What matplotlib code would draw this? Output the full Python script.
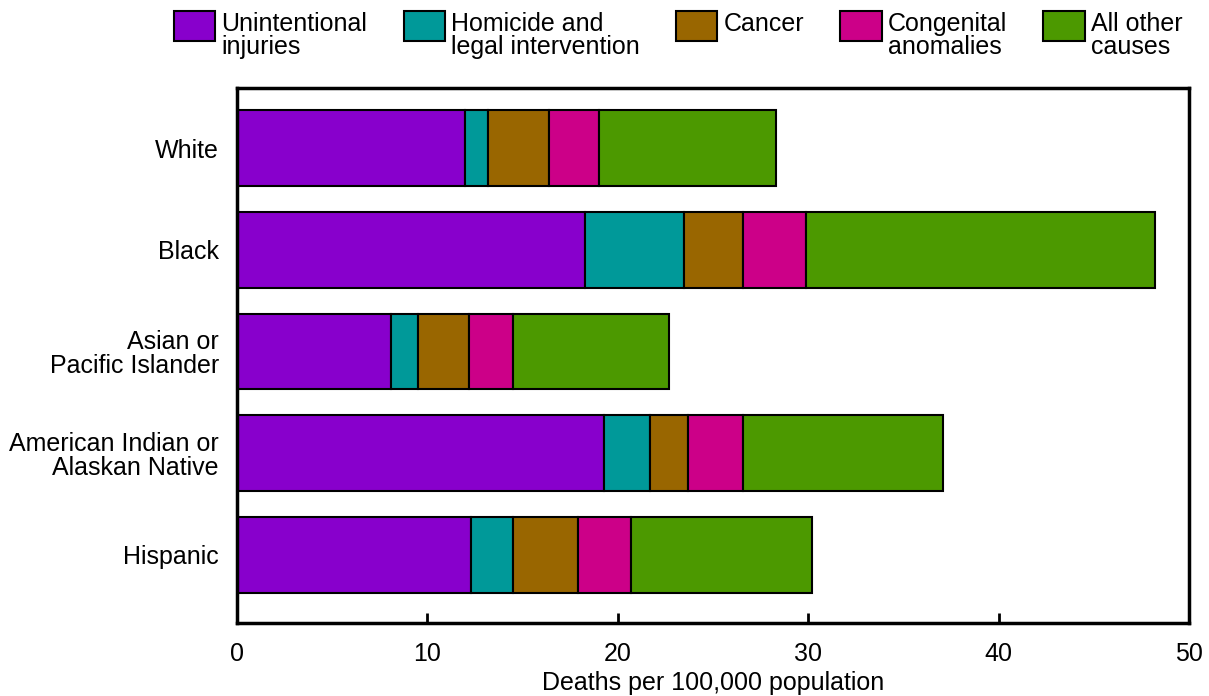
import numpy as np
import matplotlib
matplotlib.use("Agg")
import matplotlib.pyplot as plt
from matplotlib.patches import Patch, Rectangle
from matplotlib.legend_handler import HandlerPatch

plt.rcParams['font.family'] = ['Liberation Sans', 'DejaVu Sans']

groups = ["White", "Black", "Asian or\nPacific Islander",
          "American Indian or\nAlaskan Native", "Hispanic"]
causes = ["Unintentional\ninjuries", "Homicide and\nlegal intervention",
          "Cancer\n", "Congenital\nanomalies", "All other\ncauses"]
colors = ["#8800cc", "#009999", "#996600", "#cc0088", "#4c9900"]

unintentional = [12.0, 18.3, 8.1, 19.3, 12.3]
homicide = [1.2, 5.2, 1.4, 2.4, 2.2]
cancer = [3.2, 3.1, 2.7, 2.0, 3.4]
congenital = [2.6, 3.3, 2.3, 2.9, 2.8]
other = [9.3, 18.3, 8.2, 10.5, 9.5]

series = [unintentional, homicide, cancer, congenital, other]

fig = plt.figure(figsize=(12.09, 6.96), dpi=100)
ax = fig.add_axes([0.196, 0.105, 0.7875, 0.7685])

y = np.arange(len(groups))
left = np.zeros(len(groups))
for vals, col in zip(series, colors):
    ax.barh(y, vals, left=left, height=0.745, color=col,
            edgecolor="black", linewidth=1.5)
    left += np.array(vals)

ax.set_xlim(0, 50)
ax.set_ylim(4.67, -0.59)
ax.set_yticks(y)
ax.set_yticklabels(groups, fontsize=18, linespacing=1.0)
ax.tick_params(axis="y", length=0, pad=13)
ax.set_xticks([0, 10, 20, 30, 40, 50])
ax.tick_params(axis="x", direction="in", length=7, width=2, labelsize=18, pad=14)
for s in ax.spines.values():
    s.set_linewidth(2.5)
ax.set_xlabel("Deaths per 100,000 population", fontsize=18, labelpad=3)


# legend boxes sit at the top of the two-line labels
def top_box(legend, orig_handle, xdescent, ydescent, width, height, fontsize):
    return Rectangle((-xdescent, -ydescent + 0.38 * fontsize), width, 1.2 * fontsize)


handles = [Patch(facecolor=c, edgecolor="black", linewidth=1.5) for c in colors]
leg = fig.legend(handles, causes, loc="upper center", bbox_to_anchor=(0.561, 1.015),
                 ncol=5, frameon=False, fontsize=18, handlelength=1.65,
                 handleheight=1.3, handletextpad=0.25, columnspacing=1.45,
                 handler_map={Patch: HandlerPatch(patch_func=top_box)})
for t in leg.get_texts():
    t.set_linespacing(0.95)

fig.savefig("out.png", dpi=100)
